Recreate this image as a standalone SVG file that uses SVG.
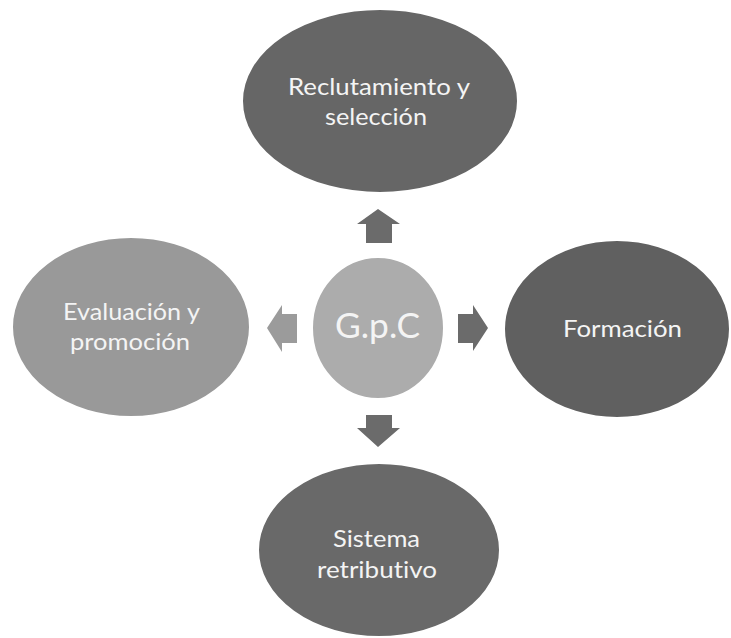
<svg xmlns="http://www.w3.org/2000/svg" width="731" height="638" viewBox="0 0 731 638">
<style>
.node{stroke:#ffffff;stroke-width:2}
.lbl{font-family:Lato,"Open Sans","DejaVu Sans",sans-serif;fill:#f4f4f4;text-anchor:start;font-variant-ligatures:none;font-feature-settings:"liga" 0}
.arr{stroke:none}
</style>
<rect width="731" height="638" fill="#ffffff"/>
<g id="connectors">
<polygon class="arr" fill="#6b6b6b" points="378,209 400,224 392,224 392,243 366,243 366,224 357,224"/>
<polygon class="arr" fill="#6b6b6b" points="366,415 392,415 392,428 400,428 378,447 357,428 366,428"/>
<polygon class="arr" fill="#6b6b6b" points="458,314 473,314 473,305 488,328 473,351 473,343 458,343"/>
<polygon class="arr" fill="#9b9b9b" points="297,314 282,314 282,305 267,328 282,352 282,343 297,343"/>
</g>
<g id="node-top">
<ellipse class="node" cx="380" cy="101" rx="138" ry="92" fill="#666666"/>
<text class="lbl" x="288" y="95" font-size="24" textLength="182" lengthAdjust="spacingAndGlyphs">Reclutamiento y</text>
<text class="lbl" x="325" y="125" font-size="24" textLength="102" lengthAdjust="spacingAndGlyphs">selección</text>
</g>
<g id="node-left">
<ellipse class="node" cx="131" cy="327" rx="119" ry="90" fill="#999999"/>
<text class="lbl" x="63" y="320" font-size="24" textLength="137" lengthAdjust="spacingAndGlyphs">Evaluación y</text>
<text class="lbl" x="70" y="350" font-size="24" textLength="120" lengthAdjust="spacingAndGlyphs">promoción</text>
</g>
<g id="node-right">
<ellipse class="node" cx="617" cy="329" rx="113" ry="89" fill="#606060"/>
<text class="lbl" x="563" y="337" font-size="23" textLength="119" lengthAdjust="spacingAndGlyphs">Formación</text>
</g>
<g id="node-bottom">
<ellipse class="node" cx="379" cy="550" rx="121" ry="87" fill="#696969"/>
<text class="lbl" x="333" y="547" font-size="24" textLength="87" lengthAdjust="spacingAndGlyphs">Sistema</text>
<text class="lbl" x="317" y="578" font-size="24" textLength="120" lengthAdjust="spacingAndGlyphs">retributivo</text>
</g>
<g id="node-center">
<ellipse class="node" cx="378" cy="328" rx="66" ry="71" fill="#acacac"/>
<text class="lbl" x="335" y="338" font-size="34" textLength="85" lengthAdjust="spacingAndGlyphs">G.p.C</text>
</g>
</svg>
